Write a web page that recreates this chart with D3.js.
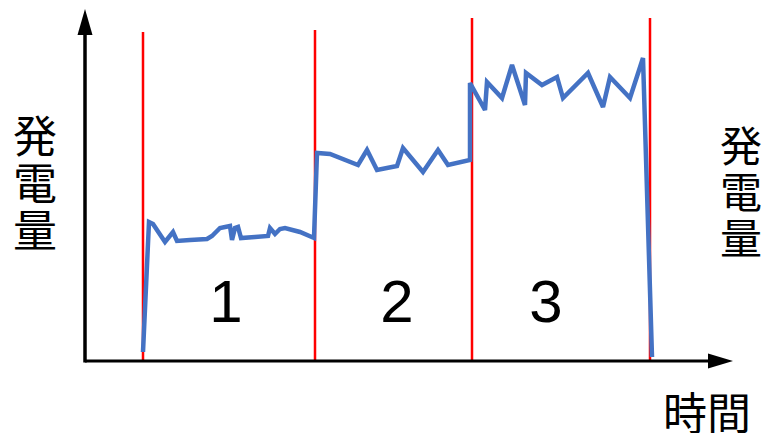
<!DOCTYPE html>
<html>
<head>
<meta charset="utf-8">
<script src="https://cdn.jsdelivr.net/npm/d3@7"></script>
<style>
  html, body { margin: 0; padding: 0; background: #fff; }
  svg { display: block; }
</style>
</head>
<body>
<svg id="chart" width="763" height="433"></svg>
<script>
// ---- data (time units, generation units) ----
const times = [11.6, 12.8, 13.6, 16, 17.6, 18.4, 21, 24.4, 25.4, 27, 29, 29.4, 30, 30.6, 31.2, 34, 36.6, 37, 38, 39, 40, 43, 45.8,
  46.4, 49, 54.6, 56.4, 58.4, 62.4, 63.6, 67.6, 70.6, 72.6, 77,
  77, 80, 80.4, 83.4, 85.4, 88, 88.2, 91.4, 94.4, 95.6, 100.6, 103.6, 105, 109, 111.6, 113.4];
const power = [1.8, 27.8, 27.4, 23.8, 25.8, 24, 24.2, 24.4, 25, 26.6, 27, 24.2, 26.6, 26.8, 24.6, 24.8, 25, 26.6, 25.4, 26.4, 26.6, 25.8, 24.6,
  41.6, 41.4, 39.2, 42.2, 38.2, 39, 42.6, 37.8, 42.2, 39.2, 40.2,
  55.6, 50.2, 55.8, 52.6, 59.2, 51.2, 57.6, 55.2, 56.8, 52.6, 57.6, 50.8, 56.8, 52.6, 60.6, 0.8];
const boundaries = [11.6, 46, 77.4, 113];
const boundaryTops = [65.8, 66.2, 68.6, 68.6];
const sectionLabels = ["1", "2", "3"];
const sectionLabelPos = [28.2, 62.4, 92.2];
const yLabel = "発電量";
const xLabel = "時間";

// ---- scales ----
const x = d3.scaleLinear().domain([0, 130]).range([85, 735]);
const y = d3.scaleLinear().domain([0, 70]).range([361, 11]);

const svg = d3.select("#chart");

// red section lines
svg.selectAll("line.sec").data(boundaries).join("line")
  .attr("class", "sec")
  .attr("x1", d => x(d)).attr("x2", d => x(d))
  .attr("y1", (d, i) => y(boundaryTops[i])).attr("y2", y(0))
  .attr("stroke", "#ff0000").attr("stroke-width", 2.5);

// axes
const x0 = x(0), y0 = y(0);
const xEnd = x(130), yEnd = y(70);
svg.append("line").attr("x1", x0).attr("x2", xEnd - 20).attr("y1", y0).attr("y2", y0)
  .attr("stroke", "#000").attr("stroke-width", 3);
svg.append("line").attr("x1", x0).attr("x2", x0).attr("y1", y0 + 1.5).attr("y2", yEnd + 20)
  .attr("stroke", "#000").attr("stroke-width", 3.5);
svg.append("path")
  .attr("d", `M${xEnd - 2},${y0} L${xEnd - 27},${y0 - 7.5} L${xEnd - 27},${y0 + 7.5} Z`)
  .attr("fill", "#000");
svg.append("path")
  .attr("d", `M${x0},${yEnd - 2} L${x0 - 7.5},${yEnd + 24} L${x0 + 7.5},${yEnd + 24} Z`)
  .attr("fill", "#000");

// blue generation line
const line = d3.line().x(d => x(d[0])).y(d => y(d[1]));
svg.append("path")
  .datum(times.map((t, i) => [t, power[i]]))
  .attr("d", line)
  .attr("fill", "none")
  .attr("stroke", "#4472c4")
  .attr("stroke-width", 4.5)
  .attr("stroke-linejoin", "miter")
  .attr("stroke-miterlimit", 3);

// section numbers
svg.selectAll("text.num").data(sectionLabels).join("text")
  .attr("class", "num")
  .attr("x", (d, i) => x(sectionLabelPos[i]))
  .attr("y", 322)
  .attr("text-anchor", "middle")
  .attr("font-family", "'Liberation Sans', Arial, sans-serif")
  .attr("font-size", 60)
  .attr("fill", "#000")
  .text(d => d);

// y labels (vertical stacked)
const jp = "'Noto Sans CJK JP', sans-serif";
const chars = yLabel.split("");
svg.selectAll("text.yl").data(chars).join("text")
  .attr("class", "yl")
  .attr("x", 35).attr("y", (d, i) => 134 + i * 47)
  .attr("text-anchor", "middle").attr("dominant-baseline", "central")
  .attr("font-family", jp).attr("font-size", 44).attr("fill", "#000")
  .text(d => d);
svg.selectAll("text.yr").data(chars).join("text")
  .attr("class", "yr")
  .attr("x", 741).attr("y", (d, i) => 143 + i * 46)
  .attr("text-anchor", "middle").attr("dominant-baseline", "central")
  .attr("font-family", jp).attr("font-size", 42).attr("fill", "#000")
  .text(d => d);

// x label
svg.append("text")
  .attr("x", 707).attr("y", 411)
  .attr("text-anchor", "middle").attr("dominant-baseline", "central")
  .attr("font-family", jp).attr("font-size", 44).attr("fill", "#000")
  .text(xLabel);
</script>
</body>
</html>
